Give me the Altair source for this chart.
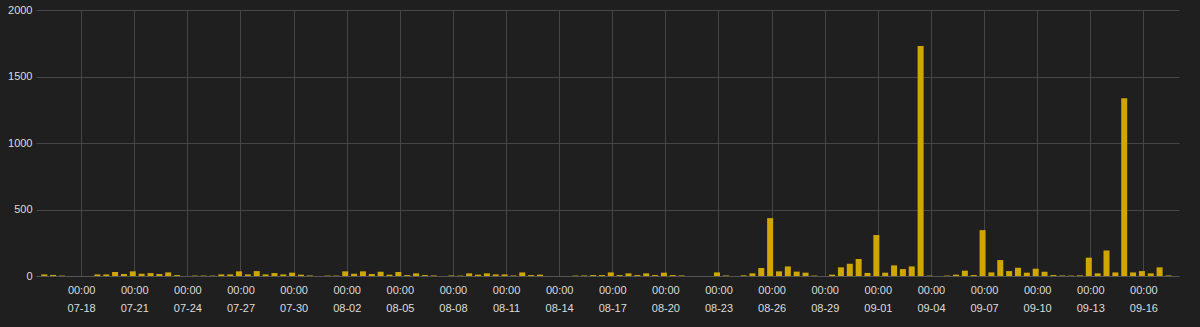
import altair as alt
import pandas as pd
from datetime import datetime, timezone, timedelta

# 12-hour bucket counts (first bucket 07-15 22:00)
values = [
    12, 8, 3, 0, 0, 0, 12, 12, 30, 15, 35, 17, 22, 15, 27, 7,
    0, 3, 3, 3, 12, 12, 35, 12, 37, 12, 22, 12, 25, 10, 4, 0,
    3, 3, 35, 17, 35, 15, 32, 10, 30, 7, 20, 7, 4, 0, 4, 3,
    20, 10, 20, 12, 12, 4, 27, 7, 10, 0, 0, 0, 3, 4, 7, 7,
    27, 7, 20, 7, 20, 7, 25, 7, 4, 0, 0, 0, 27, 4, 0, 5,
    20, 60, 435, 35, 72, 33, 25, 3, 0, 10, 65, 92, 128, 23, 308, 25,
    80, 52, 72, 1730, 3, 0, 3, 10, 40, 7, 345, 27, 120, 37, 62, 25,
    55, 32, 7, 3, 3, 5, 138, 20, 192, 27, 1336, 27, 37, 20, 65, 4,
]
tick_labels = ["07-18", "07-21", "07-24", "07-27", "07-30", "08-02", "08-05",
               "08-08", "08-11", "08-14", "08-17", "08-20", "08-23", "08-26",
               "08-29", "09-01", "09-04", "09-07", "09-10", "09-13", "09-16"]
y_ticks = [0, 500, 1000, 1500, 2000]

YEAR = 2023
start = datetime(YEAR, 7, 15, 22, 0, tzinfo=timezone.utc)


def ms(d):
    return int(d.timestamp() * 1000)


times = [ms(start + timedelta(hours=12 * i)) for i in range(len(values))]
tick_ms = [ms(datetime(YEAR, int(s[:2]), int(s[3:]), tzinfo=timezone.utc)) for s in tick_labels]
dom = [ms(datetime(YEAR, 7, 15, 17, 34, tzinfo=timezone.utc)),
       ms(datetime(YEAR, 9, 17, 17, 30, tzinfo=timezone.utc))]

df = pd.DataFrame({"t": times, "v": values})

TXT = "#dcdcdc"
GRID = "#464646"

chart = alt.Chart(df).mark_bar(color="#d0a600", size=6).encode(
    x=alt.X("t:T",
            scale=alt.Scale(type="utc", domain=dom),
            axis=alt.Axis(values=tick_ms, title=None, grid=True, ticks=False,
                          domain=True, domainColor="#555555",
                          labelExpr="['00:00', utcFormat(datum.value, '%m-%d')]",
                          labelFlush=False, labelOverlap=False, labelPadding=8,
                          labelLineHeight=18, labelFontSize=11, labelColor=TXT,
                          labelFont="Liberation Sans", gridColor=GRID)),
    y=alt.Y("v:Q",
            scale=alt.Scale(domain=[0, 2000], nice=False),
            axis=alt.Axis(values=y_ticks, title=None, domain=False, ticks=False,
                          format="d",
                          labelPadding=4, labelFontSize=11, labelColor=TXT,
                          labelFont="Liberation Sans", gridColor=GRID)),
).properties(
    width=1143, height=266,
    padding={"left": 36, "top": 10, "right": 21, "bottom": 51},
    autosize="none",
    background="#1f1f1f",
).configure_view(strokeWidth=0)

chart.save("out.html", embed_options={"renderer": "svg", "actions": False})
